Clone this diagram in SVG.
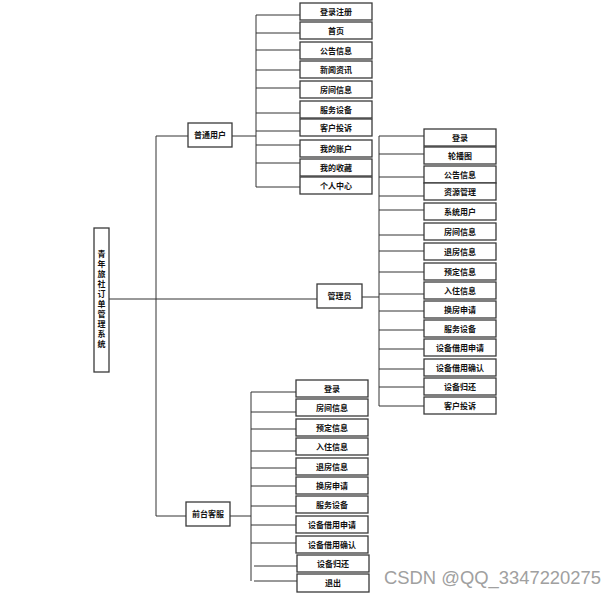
<svg xmlns="http://www.w3.org/2000/svg" width="616" height="597" viewBox="0 0 616 597">
<style>
.bx{fill:#fff;stroke:#3a3a3a;stroke-width:1.3}
.t{font-family:"Noto Sans CJK SC","Noto Sans CJK TC",sans-serif;font-size:8px;font-weight:bold;fill:#111;text-anchor:middle}
.c{fill:none;stroke:#333;stroke-width:1}
.wm{font-family:"Liberation Sans",Arial,sans-serif;font-size:18.4px;fill:#a0a0a0}
</style>
<rect width="616" height="597" fill="#fff"/>
<g id="connectors">
<path class="c" d="M109 299H317"/>
<path class="c" d="M156 136V516"/>
<path class="c" d="M156 136H188M156 516H186"/>
<path class="c" d="M232 136H256M256 15V187"/>
<path class="c" d="M256 15H300M256 33H300M256 50H300M256 70H300M256 88H300M256 113H300M256 131H300M256 145H300M256 163H300M256 187H300"/>
<path class="c" d="M362 297H379M379 136V406"/>
<path class="c" d="M379 136H424M379 154H424M379 177H424M379 196H424M379 210H424M379 235H424M379 251H424M379 272H424M379 294H424M379 311H424M379 330H424M379 349H424M379 369H424M379 387H424M379 406H424"/>
<path class="c" d="M230 516H251M251 392V581"/>
<path class="c" d="M251 392H296M251 412H296M251 429H296M251 451H296M251 468H296M251 486H296M251 506H296M251 525H296M251 543H296M254 566H297M254 581H297"/>
</g>
<g id="root">
<rect class="bx" x="94" y="228" width="15" height="144"/>
<text class="t" x="101.5" y="257">青<tspan x="101.5" dy="10">年</tspan><tspan x="101.5" dy="10">旅</tspan><tspan x="101.5" dy="10">社</tspan><tspan x="101.5" dy="10">订</tspan><tspan x="101.5" dy="10">单</tspan><tspan x="101.5" dy="10">管</tspan><tspan x="101.5" dy="10">理</tspan><tspan x="101.5" dy="10">系</tspan><tspan x="101.5" dy="10">统</tspan></text>
</g>
<g id="n-user"><rect class="bx" x="188" y="123" width="44" height="24"/><text class="t" x="210" y="138">普通用户</text></g>
<g id="n-admin"><rect class="bx" x="317" y="284" width="45" height="24"/><text class="t" x="339.5" y="299">管理员</text></g>
<g id="n-front"><rect class="bx" x="186" y="502" width="44" height="24"/><text class="t" x="208" y="517">前台客服</text></g>
<g id="u1"><rect class="bx" x="300" y="3" width="72" height="17"/><text class="t" x="336" y="14.5">登录注册</text></g>
<g id="u2"><rect class="bx" x="300" y="22" width="72" height="17"/><text class="t" x="336" y="33.5">首页</text></g>
<g id="u3"><rect class="bx" x="300" y="42" width="72" height="17"/><text class="t" x="336" y="53.5">公告信息</text></g>
<g id="u4"><rect class="bx" x="300" y="61" width="72" height="17"/><text class="t" x="336" y="72.5">新闻资讯</text></g>
<g id="u5"><rect class="bx" x="300" y="81" width="72" height="17"/><text class="t" x="336" y="92.5">房间信息</text></g>
<g id="u6"><rect class="bx" x="300" y="101" width="72" height="17"/><text class="t" x="336" y="112.5">服务设备</text></g>
<g id="u7"><rect class="bx" x="300" y="119" width="72" height="17"/><text class="t" x="336" y="130.5">客户投诉</text></g>
<g id="u8"><rect class="bx" x="300" y="140" width="72" height="17"/><text class="t" x="336" y="151.5">我的账户</text></g>
<g id="u9"><rect class="bx" x="300" y="159" width="72" height="17"/><text class="t" x="336" y="170.5">我的收藏</text></g>
<g id="u10"><rect class="bx" x="300" y="177" width="72" height="17"/><text class="t" x="336" y="188.5">个人中心</text></g>
<g id="a1"><rect class="bx" x="424" y="129" width="72" height="17"/><text class="t" x="460" y="140.5">登录</text></g>
<g id="a2"><rect class="bx" x="424" y="147" width="72" height="17"/><text class="t" x="460" y="158.5">轮播图</text></g>
<g id="a3"><rect class="bx" x="424" y="166" width="72" height="17"/><text class="t" x="460" y="177.5">公告信息</text></g>
<g id="a4"><rect class="bx" x="424" y="183" width="72" height="17"/><text class="t" x="460" y="194.5">资源管理</text></g>
<g id="a5"><rect class="bx" x="424" y="203" width="72" height="17"/><text class="t" x="460" y="214.5">系统用户</text></g>
<g id="a6"><rect class="bx" x="424" y="223" width="72" height="17"/><text class="t" x="460" y="234.5">房间信息</text></g>
<g id="a7"><rect class="bx" x="424" y="243" width="72" height="17"/><text class="t" x="460" y="254.5">退房信息</text></g>
<g id="a8"><rect class="bx" x="424" y="263" width="72" height="17"/><text class="t" x="460" y="274.5">预定信息</text></g>
<g id="a9"><rect class="bx" x="424" y="282" width="72" height="17"/><text class="t" x="460" y="293.5">入住信息</text></g>
<g id="a10"><rect class="bx" x="424" y="301" width="72" height="17"/><text class="t" x="460" y="312.5">换房申请</text></g>
<g id="a11"><rect class="bx" x="424" y="320" width="72" height="17"/><text class="t" x="460" y="331.5">服务设备</text></g>
<g id="a12"><rect class="bx" x="424" y="339" width="72" height="17"/><text class="t" x="460" y="350.5">设备借用申请</text></g>
<g id="a13"><rect class="bx" x="424" y="359" width="72" height="17"/><text class="t" x="460" y="370.5">设备借用确认</text></g>
<g id="a14"><rect class="bx" x="424" y="378" width="72" height="17"/><text class="t" x="460" y="389.5">设备归还</text></g>
<g id="a15"><rect class="bx" x="424" y="397" width="72" height="17"/><text class="t" x="460" y="408.5">客户投诉</text></g>
<g id="f1"><rect class="bx" x="296" y="380" width="72" height="17"/><text class="t" x="332" y="391.5">登录</text></g>
<g id="f2"><rect class="bx" x="296" y="399" width="72" height="17"/><text class="t" x="332" y="410.5">房间信息</text></g>
<g id="f3"><rect class="bx" x="296" y="419" width="72" height="17"/><text class="t" x="332" y="430.5">预定信息</text></g>
<g id="f4"><rect class="bx" x="296" y="438" width="72" height="17"/><text class="t" x="332" y="449.5">入住信息</text></g>
<g id="f5"><rect class="bx" x="296" y="458" width="72" height="17"/><text class="t" x="332" y="469.5">退房信息</text></g>
<g id="f6"><rect class="bx" x="296" y="477" width="72" height="17"/><text class="t" x="332" y="488.5">换房申请</text></g>
<g id="f7"><rect class="bx" x="296" y="496" width="72" height="17"/><text class="t" x="332" y="507.5">服务设备</text></g>
<g id="f8"><rect class="bx" x="296" y="516" width="72" height="17"/><text class="t" x="332" y="527.5">设备借用申请</text></g>
<g id="f9"><rect class="bx" x="296" y="536" width="72" height="17"/><text class="t" x="332" y="547.5">设备借用确认</text></g>
<g id="f10"><rect class="bx" x="297" y="555" width="72" height="17"/><text class="t" x="333" y="566.5">设备归还</text></g>
<g id="f11"><rect class="bx" x="297" y="574" width="72" height="18"/><text class="t" x="333" y="586">退出</text></g>
<text class="wm" x="384" y="584">CSDN @QQ_3347220275</text>
</svg>
